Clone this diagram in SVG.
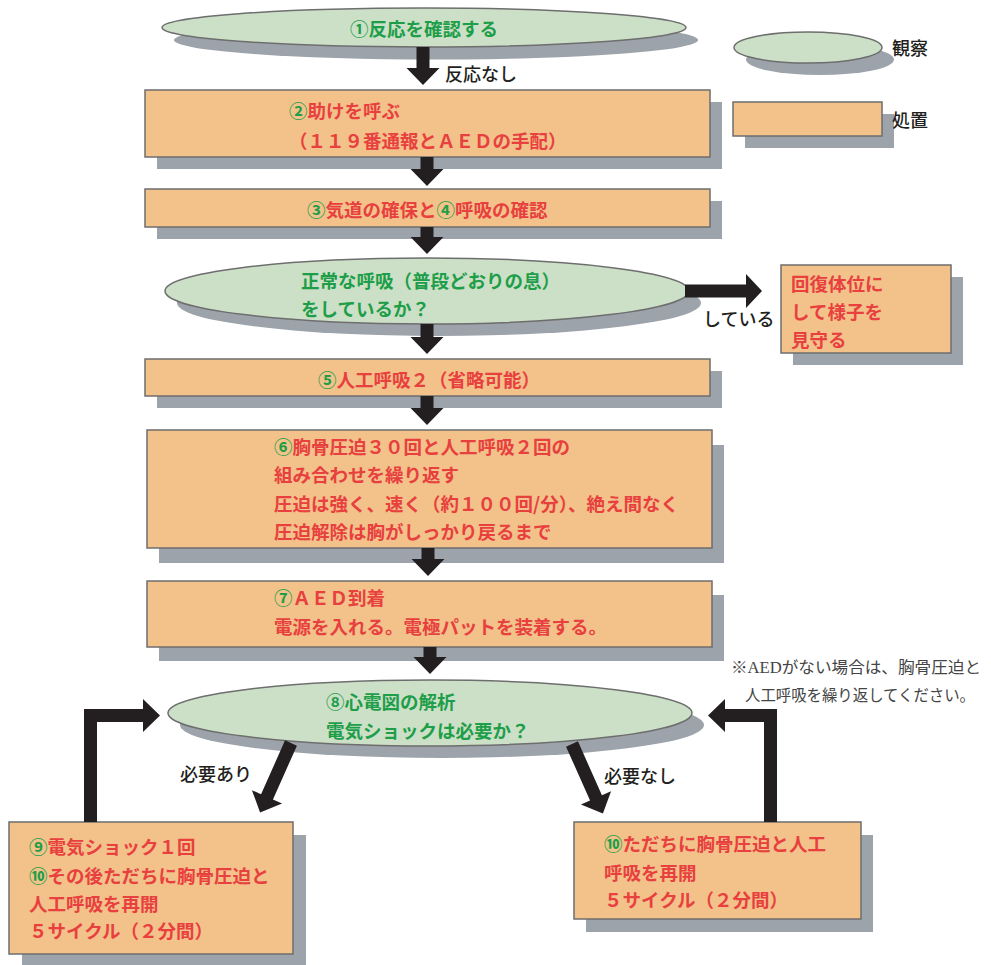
<svg xmlns="http://www.w3.org/2000/svg" width="991" height="965" viewBox="0 0 991 965">
<style>
.sh{fill:#9da3aa}
.bx{fill:#f2c28a;stroke:#6e6e6e;stroke-width:1.5}
.el{fill:#cce0c8;stroke:#6e6e6e;stroke-width:1.5}
.t{font-family:"Noto Sans CJK JP",sans-serif;font-size:18.5px;font-weight:bold;dominant-baseline:central}
.lb{font-family:"Noto Sans CJK JP",sans-serif;font-size:18px;font-weight:500;fill:#231f20;dominant-baseline:central}
.r{fill:#e8403f}
.g{fill:#1e9e48}
.note{font-family:"Liberation Serif","Noto Sans CJK JP",serif;font-size:16px;fill:#444;dominant-baseline:central}
.arr{fill:#231f20}
</style>
<rect width="991" height="965" fill="#ffffff"/>

<g id="legend-observe">
<ellipse class="sh" cx="820" cy="59.5" rx="74" ry="15.5"/>
<ellipse class="el" cx="808" cy="47.5" rx="74" ry="15.5"/>
<text class="lb" x="892" y="47">観察</text>
</g>
<g id="legend-action">
<rect class="sh" x="745" y="114" width="149" height="34"/>
<rect class="bx" x="733" y="102" width="149" height="34"/>
<text class="lb" x="892" y="119">処置</text>
</g>

<g id="n1">
<ellipse class="sh" cx="436" cy="40" rx="262" ry="19.5"/>
<ellipse class="el" cx="424" cy="27.5" rx="262" ry="19.5"/>
<text class="t g" x="424" y="28" text-anchor="middle">①反応を確認する</text>
</g>

<g id="n2">
<rect class="sh" x="157" y="102" width="565" height="67"/>
<rect class="bx" x="145" y="90" width="565" height="67"/>
<text class="t r" x="289" y="110"><tspan class="g">②</tspan>助けを呼ぶ</text>
<text class="t r" x="289" y="140">（１１９番通報とＡＥＤの手配）</text>
</g>

<g id="n3">
<rect class="sh" x="157" y="201" width="565" height="38"/>
<rect class="bx" x="145" y="189" width="565" height="38"/>
<text class="t r" x="307" y="209"><tspan class="g">③</tspan>気道の確保と<tspan class="g">④</tspan>呼吸の確認</text>
</g>

<g id="n4">
<ellipse class="sh" cx="439" cy="303" rx="262" ry="33"/>
<ellipse class="el" cx="427" cy="291" rx="262" ry="33"/>
<text class="t g" x="301" y="280">正常な呼吸（普段どおりの息）</text>
<text class="t g" x="301" y="308">をしているか？</text>
</g>

<g id="n-recovery">
<rect class="sh" x="793" y="277" width="170" height="88"/>
<rect class="bx" x="781" y="265" width="170" height="88"/>
<text class="t r" x="791" y="283">回復体位に</text>
<text class="t r" x="791" y="311">して様子を</text>
<text class="t r" x="791" y="339">見守る</text>
</g>

<g id="n5">
<rect class="sh" x="157" y="371" width="565" height="37"/>
<rect class="bx" x="145" y="359" width="565" height="37"/>
<text class="t r" x="318" y="379"><tspan class="g">⑤</tspan>人工呼吸２（省略可能）</text>
</g>

<g id="n6">
<rect class="sh" x="159" y="445" width="565" height="118"/>
<rect class="bx" x="147" y="430" width="565" height="118"/>
<text class="t r" x="274" y="446"><tspan class="g">⑥</tspan>胸骨圧迫３０回と人工呼吸２回の</text>
<text class="t r" x="274" y="474">組み合わせを繰り返す</text>
<text class="t r" x="274" y="503">圧迫は強く、速く（約１００回/分）、絶え間なく</text>
<text class="t r" x="274" y="531">圧迫解除は胸がしっかり戻るまで</text>
</g>

<g id="n7">
<rect class="sh" x="159" y="595" width="565" height="66"/>
<rect class="bx" x="147" y="581" width="565" height="66"/>
<text class="t r" x="274" y="597"><tspan class="g">⑦</tspan>ＡＥＤ到着</text>
<text class="t r" x="274" y="626">電源を入れる。電極パットを装着する。</text>
</g>

<g id="note">
<text class="note" x="731" y="667" textLength="250" lengthAdjust="spacingAndGlyphs">※AEDがない場合は、胸骨圧迫と</text>
<text class="note" x="745" y="695" textLength="230" lengthAdjust="spacingAndGlyphs">人工呼吸を繰り返してください。</text>
</g>

<g id="n8">
<ellipse class="sh" cx="442" cy="725" rx="262" ry="33"/>
<ellipse class="el" cx="430" cy="713" rx="262" ry="33"/>
<text class="t g" x="326" y="701">⑧心電図の解析</text>
<text class="t g" x="326" y="730">電気ショックは必要か？</text>
</g>

<g id="n9">
<rect class="sh" x="22" y="835" width="284" height="132"/>
<rect class="bx" x="9" y="822" width="284" height="132"/>
<text class="t r" x="29" y="846"><tspan class="g">⑨</tspan>電気ショック１回</text>
<text class="t r" x="29" y="875"><tspan class="g">⑩</tspan>その後ただちに胸骨圧迫と</text>
<text class="t r" x="29" y="903">人工呼吸を再開</text>
<text class="t r" x="29" y="930">５サイクル（２分間）</text>
</g>

<g id="n10">
<rect class="sh" x="586" y="835" width="287" height="97"/>
<rect class="bx" x="574" y="822" width="287" height="97"/>
<text class="t r" x="604" y="843"><tspan class="g">⑩</tspan>ただちに胸骨圧迫と人工</text>
<text class="t r" x="604" y="872">呼吸を再開</text>
<text class="t r" x="604" y="899">５サイクル（２分間）</text>
</g>

<g id="connectors">
<polygon class="arr" points="416.5,47 429.5,47 429.5,68 439.5,68 423,85 406.5,68 416.5,68"/>
<polygon class="arr" points="420.5,157 433.5,157 433.5,169 443.5,169 427,186 410.5,169 420.5,169"/>
<polygon class="arr" points="420.5,227 433.5,227 433.5,237 443.5,237 427,254 410.5,237 420.5,237"/>
<polygon class="arr" points="420.5,324 433.5,324 433.5,337 443.5,337 427,354 410.5,337 420.5,337"/>
<polygon class="arr" points="420.5,396 433.5,396 433.5,408 443.5,408 427,425 410.5,408 420.5,408"/>
<polygon class="arr" points="421.5,548 434.5,548 434.5,559 444.5,559 428,576 411.5,559 421.5,559"/>
<polygon class="arr" points="423.5,647 436.5,647 436.5,657 446.5,657 430,674 413.5,657 423.5,657"/>
<polygon class="arr" points="685,284.5 746,284.5 746,274 762,291 746,308 746,297.5 685,297.5"/>
<polygon class="arr" transform="translate(291,743) rotate(24)" points="-6.5,0 6.5,0 6.5,59 16.5,59 0,76 -16.5,59 -6.5,59"/>
<polygon class="arr" transform="translate(572,744) rotate(-24)" points="-6.5,0 6.5,0 6.5,59 16.5,59 0,76 -16.5,59 -6.5,59"/>
<polygon class="arr" points="84,822 84,709 143,709 143,699 160,715.5 143,732 143,722 97,722 97,822"/>
<polygon class="arr" points="777,822 777,709 725,709 725,699 708,715.5 725,732 725,722 764,722 764,822"/>
<text class="lb" x="445" y="73">反応なし</text>
<text class="lb" x="703" y="318">している</text>
<text class="lb" x="180" y="773">必要あり</text>
<text class="lb" x="604" y="775">必要なし</text>
</g>
</svg>
